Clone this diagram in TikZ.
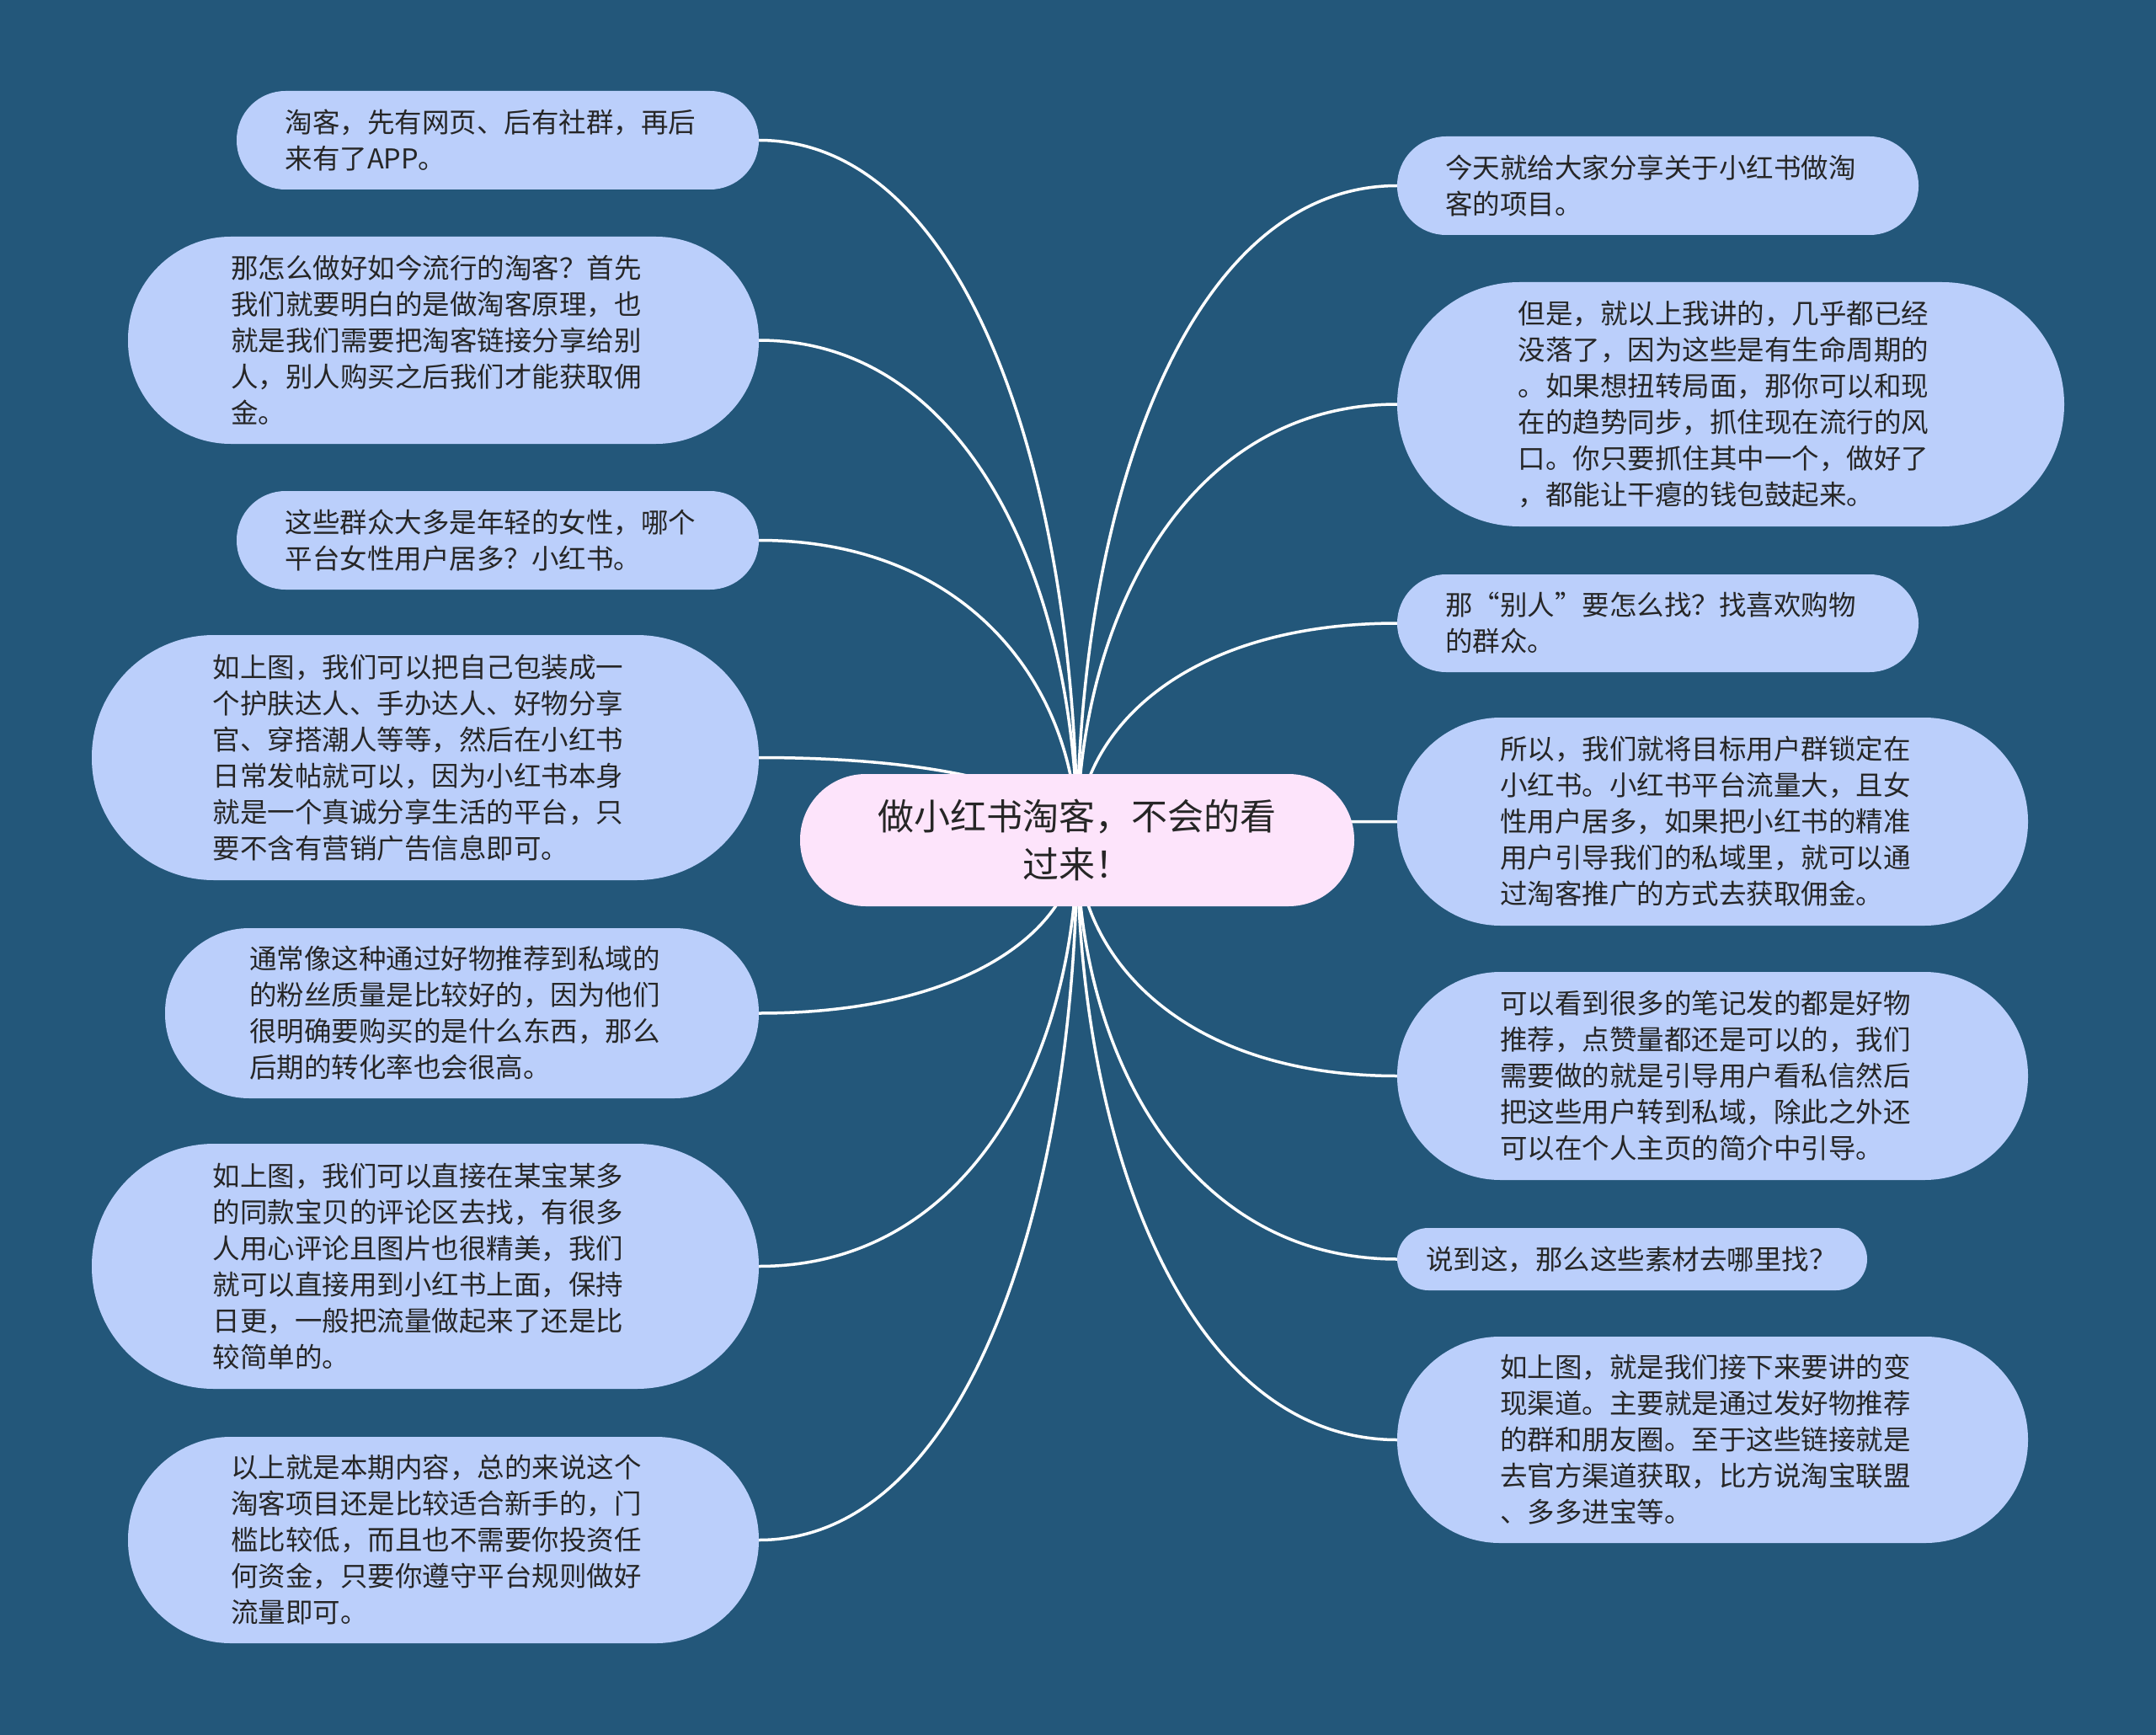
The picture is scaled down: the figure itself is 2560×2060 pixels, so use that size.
\documentclass[tikz,border=0pt]{standalone}
\usepackage{fontspec}
\setmainfont{Noto Sans CJK SC}
\usetikzlibrary{calc}
\definecolor{bgc}{HTML}{23577A}
\definecolor{leafc}{HTML}{BBCFFB}
\definecolor{rootc}{HTML}{FDE4FB}
\definecolor{txtc}{HTML}{262626}
\pgfdeclarelayer{bglayer}
\pgfdeclarelayer{edgelayer}
\pgfsetlayers{bglayer,edgelayer,main}
\tikzset{
  leaf/.style={fill=leafc, draw=none, text=txtc, align=left, inner sep=0pt,
    text width=505pt, font=\fontsize{32.5}{43}\selectfont},
  rootbox/.style={fill=rootc, draw=none, text=txtc, align=center, inner sep=0pt,
    font=\fontsize{43}{57}\selectfont},
  link/.style={draw=white, line width=3.5pt}
}
\newcommand\linkto[1]{\draw[link] (#1) .. controls ($(#1)!0.6667!(#1 -| c.center)$) and ($(c.center)!0.5!(c.center |- #1)$) .. (c.center);}
\begin{document}
\begin{tikzpicture}[x=1pt,y=-1pt]
\useasboundingbox (0,0) rectangle (2560,2060);
\begin{pgfonlayer}{bglayer}
\fill[bgc] (0,0) rectangle (2560,2060);
\end{pgfonlayer}

\node[rootbox, minimum width=658, minimum height=157, rounded corners=78] (c) at (1279,997.5)
  {做小红书淘客，不会的看\\过来！};

% left
\node[leaf, minimum width=620, minimum height=117, rounded corners=58] (l1) at (591,166.5)
  {淘客，先有网页、后有社群，再后\\来有了APP。};
\node[leaf, minimum width=749, minimum height=246, rounded corners=122] (l2) at (526.5,404)
  {那怎么做好如今流行的淘客？首先\\我们就要明白的是做淘客原理，也\\就是我们需要把淘客链接分享给别\\人，别人购买之后我们才能获取佣\\金。};
\node[leaf, minimum width=620, minimum height=117, rounded corners=58] (l3) at (591,641.5)
  {这些群众大多是年轻的女性，哪个\\平台女性用户居多？小红书。};
\node[leaf, minimum width=792, minimum height=291, rounded corners=145] (l4) at (505,899.5)
  {如上图，我们可以把自己包装成一\\个护肤达人、手办达人、好物分享\\官、穿搭潮人等等，然后在小红书\\日常发帖就可以，因为小红书本身\\就是一个真诚分享生活的平台，只\\要不含有营销广告信息即可。};
\node[leaf, minimum width=705, minimum height=202, rounded corners=100] (l5) at (548.5,1203)
  {通常像这种通过好物推荐到私域的\\的粉丝质量是比较好的，因为他们\\很明确要购买的是什么东西，那么\\后期的转化率也会很高。};
\node[leaf, minimum width=792, minimum height=291, rounded corners=145] (l6) at (505,1503.5)
  {如上图，我们可以直接在某宝某多\\的同款宝贝的评论区去找，有很多\\人用心评论且图片也很精美，我们\\就可以直接用到小红书上面，保持\\日更，一般把流量做起来了还是比\\较简单的。};
\node[leaf, minimum width=749, minimum height=245, rounded corners=122] (l7) at (526.5,1828.5)
  {以上就是本期内容，总的来说这个\\淘客项目还是比较适合新手的，门\\槛比较低，而且也不需要你投资任\\何资金，只要你遵守平台规则做好\\流量即可。};

% right
\node[leaf, minimum width=619, minimum height=117, rounded corners=58] (r1) at (1968.5,220.5)
  {今天就给大家分享关于小红书做淘\\客的项目。};
\node[leaf, minimum width=792, minimum height=290, rounded corners=145] (r2) at (2055,480)
  {但是，就以上我讲的，几乎都已经\\没落了，因为这些是有生命周期的\\。如果想扭转局面，那你可以和现\\在的趋势同步，抓住现在流行的风\\口。你只要抓住其中一个，做好了\\，都能让干瘪的钱包鼓起来。};
\node[leaf, minimum width=619, minimum height=116, rounded corners=58] (r3) at (1968.5,740)
  {那“别人”要怎么找？找喜欢购物\\的群众。};
\node[leaf, minimum width=749, minimum height=247, rounded corners=123] (r4) at (2033.5,975.5)
  {所以，我们就将目标用户群锁定在\\小红书。小红书平台流量大，且女\\性用户居多，如果把小红书的精准\\用户引导我们的私域里，就可以通\\过淘客推广的方式去获取佣金。};
\node[leaf, minimum width=749, minimum height=247, rounded corners=123] (r5) at (2033.5,1277.5)
  {可以看到很多的笔记发的都是好物\\推荐，点赞量都还是可以的，我们\\需要做的就是引导用户看私信然后\\把这些用户转到私域，除此之外还\\可以在个人主页的简介中引导。};
\node[leaf, text width=490pt, minimum width=558, minimum height=74, rounded corners=37] (r6) at (1938,1495)
  {说到这，那么这些素材去哪里找？};
\node[leaf, minimum width=749, minimum height=245, rounded corners=122] (r7) at (2033.5,1709.5)
  {如上图，就是我们接下来要讲的变\\现渠道。主要就是通过发好物推荐\\的群和朋友圈。至于这些链接就是\\去官方渠道获取，比方说淘宝联盟\\、多多进宝等。};

\begin{pgfonlayer}{edgelayer}
\linkto{l1.east}
\linkto{l2.east}
\linkto{l3.east}
\linkto{l4.east}
\linkto{l5.east}
\linkto{l6.east}
\linkto{l7.east}
\linkto{r1.west}
\linkto{r2.west}
\linkto{r3.west}
\linkto{r4.west}
\linkto{r5.west}
\linkto{r6.west}
\linkto{r7.west}
\end{pgfonlayer}
\end{tikzpicture}
\end{document}
